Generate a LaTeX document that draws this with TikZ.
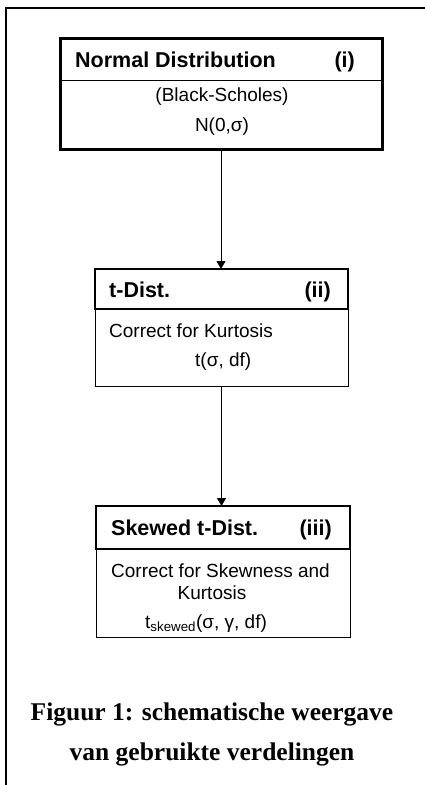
\documentclass[tikz,border=0pt]{standalone}
\usepackage{fontspec}
\setmainfont{Liberation Serif}
\newfontfamily\arial{Liberation Sans}
\usetikzlibrary{arrows.meta,positioning}

\begin{document}
\begin{tikzpicture}[
  x=1pt, y=-1pt,
  headbox/.style={draw, line width=2pt, inner sep=0pt, outer sep=0pt},
  bodybox/.style={draw, line width=0.9pt, inner sep=0pt, outer sep=0pt},
  title/.style={font=\arial\fontsize{21.5}{26}\selectfont\bfseries, inner sep=0pt},
  txt/.style={font=\arial\fontsize{19}{23}\selectfont, inner sep=0pt},
  capt/.style={font=\fontsize{25.5}{39}\selectfont\bfseries, inner sep=0pt},
  arrow/.style={-{Triangle[length=8pt,width=9pt]}, line width=1pt}
]
\useasboundingbox (0,0) rectangle (425,785);
% open frame round the figure
\draw[line width=2pt] (6,785) -- (6,8) -- (425,8);

% (i)
\node[headbox, line width=3pt, minimum width=322pt, minimum height=111pt] (box1) at (221,93.5) {};
\node[minimum width=322pt, minimum height=42pt, inner sep=0pt, outer sep=0pt] (head1) at (221,59) {};
\draw[line width=0.9pt] (head1.south west) -- (head1.south east);
\node[title, anchor=base west] (name1) at (75,67) {Normal Distribution};
\node[title, anchor=base east] (num1) at (355,67) {(i)};
\node[txt, anchor=base] (bs) at (222,101) {(Black-Scholes)};
\node[txt, anchor=base] (norm) at (222,131) {N(0,σ)};

% (ii)
\node[bodybox, minimum width=253pt, minimum height=77pt] (body2) at (221.5,347.5) {};
\node[headbox, minimum width=253pt, minimum height=40pt] (head2) at (221.5,289) {};
\node[title, anchor=base west] (name2) at (109,297) {t-Dist.};
\node[title, anchor=base east] (num2) at (331,297) {(ii)};
\node[txt, anchor=base west] (kurt) at (109,337) {Correct for Kurtosis};
\node[txt, anchor=base west] (tdist) at (195,366) {t(σ, df)};

% (iii)
\node[bodybox, minimum width=254pt, minimum height=88pt] (body3) at (223,593) {};
\node[headbox, minimum width=254pt, minimum height=43pt] (head3) at (223,527.5) {};
\node[title, anchor=base west] (name3) at (111,535) {Skewed t-Dist.};
\node[title, anchor=base east] (num3) at (332,535) {(iii)};
\node[txt, anchor=base west] (skew) at (111,577) {Correct for Skewness and};
\node[txt, anchor=base] (skew2) at (212,599) {Kurtosis};
\node[txt, anchor=base west] (tskew) at (145,628) {t\textsubscript{skewed}(σ, γ, df)};

\draw[arrow] (box1.south) -- (box1.south |- head2.north);
\draw[arrow] (body2.south) -- (body2.south |- head3.north);

\node[capt, anchor=base] (cap1) at (212,720) {Figuur 1: schematische weergave};
\node[capt, anchor=base] (cap2) at (212,760) {van gebruikte verdelingen};
\end{tikzpicture}
\end{document}
